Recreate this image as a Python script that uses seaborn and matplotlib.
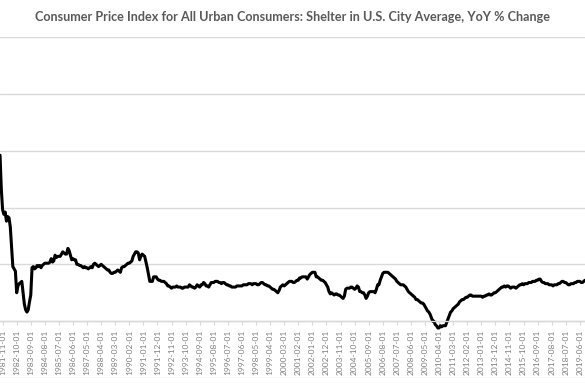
import matplotlib
matplotlib.use("Agg")
import matplotlib.pyplot as plt
import seaborn as sns
import pandas as pd

# monthly YoY % change, first value is 1981-09
start_month = '1981-09-01'
shelter_yoy = [
    14.6, 11.6, 9.8, 9.4,                                              # 1981 Sep-Dec
    9.6, 8.8, 9.2, 9.1, 8.3, 6.6, 4.8, 4.6, 4.4, 2.5, 3.1, 3.3,        # 1982
    3.4, 3.5, 2.5, 1.5, 1.0, 0.8, 1.0, 1.7, 2.3, 4.7, 4.8, 4.6,        # 1983
    4.7, 4.9, 4.8, 4.9, 4.7, 4.9, 5.0, 5.1, 5.1, 5.1, 5.1, 5.2,        # 1984
    5.5, 5.2, 5.3, 5.8, 5.6, 5.7, 5.7, 5.7, 5.9, 6.1, 6.0, 5.9,        # 1985
    5.9, 6.4, 6.2, 5.8, 5.4, 5.5, 5.4, 5.4, 5.0, 5.0, 4.9, 4.9,        # 1986
    4.8, 4.7, 4.8, 4.7, 4.7, 4.6, 4.7, 4.8, 4.7, 5.0, 5.1, 5.0,        # 1987
    4.9, 4.8, 4.9, 5.0, 4.9, 4.8, 4.7, 4.6, 4.5, 4.5, 4.3, 4.2,        # 1988
    4.2, 4.3, 4.3, 4.4, 4.5, 4.4, 4.3, 4.7, 4.8, 4.8, 4.9, 5.0,        # 1989
    5.1, 5.1, 5.2, 5.3, 5.7, 5.9, 6.1, 6.1, 6.0, 5.4, 5.7, 5.9,        # 1990
    5.8, 5.7, 5.2, 4.7, 4.1, 3.5, 3.5, 3.5, 3.9, 3.9, 3.9, 3.7,        # 1991
    3.6, 3.6, 3.5, 3.5, 3.5, 3.4, 3.3, 3.1, 3.1, 3.0, 2.9, 3.0,        # 1992
    3.0, 3.0, 3.1, 3.0, 3.0, 3.0, 2.9, 2.9, 3.0, 3.0, 3.0, 3.0,        # 1993
    3.2, 3.1, 3.0, 3.0, 2.9, 3.0, 3.2, 3.1, 3.0, 3.2, 3.2, 3.4,        # 1994
    3.3, 3.1, 3.1, 3.0, 3.2, 3.4, 3.4, 3.4, 3.5, 3.5, 3.5, 3.4,        # 1995
    3.4, 3.3, 3.4, 3.4, 3.3, 3.2, 3.2, 3.1, 3.1, 3.0, 3.0, 3.0,        # 1996
    3.0, 3.1, 3.1, 3.1, 3.1, 3.1, 3.2, 3.2, 3.2, 3.2, 3.3, 3.3,        # 1997
    3.3, 3.2, 3.3, 3.3, 3.3, 3.2, 3.2, 3.3, 3.4, 3.4, 3.3, 3.2,        # 1998
    3.2, 3.1, 3.1, 3.0, 2.9, 2.8, 2.8, 2.7, 2.6, 2.5, 2.7, 3.0,        # 1999
    3.1, 3.2, 3.1, 3.2, 3.3, 3.4, 3.5, 3.5, 3.5, 3.4, 3.4, 3.5,        # 2000
    3.6, 3.6, 3.8, 3.8, 3.9, 3.9, 3.9, 3.9, 3.7, 3.9, 4.1, 4.2,        # 2001
    4.3, 4.3, 4.3, 3.9, 3.9, 3.8, 3.7, 3.6, 3.6, 3.5, 3.4, 3.2,        # 2002
    3.0, 2.6, 2.4, 2.5, 2.4, 2.3, 2.4, 2.4, 2.3, 2.3, 2.2, 2.1,        # 2003
    2.0, 2.2, 2.8, 2.9, 2.9, 2.9, 3.0, 3.0, 2.9, 2.8, 2.9, 3.1,        # 2004
    3.0, 2.6, 2.6, 2.5, 2.5, 2.3, 2.0, 2.2, 2.5, 2.6, 2.6, 2.6,        # 2005
    2.6, 2.5, 2.8, 3.2, 3.2, 3.6, 3.9, 4.2, 4.3, 4.3, 4.3, 4.3,        # 2006
    4.2, 4.1, 4.0, 3.9, 3.8, 3.7, 3.5, 3.4, 3.3, 3.2, 3.2, 3.2,        # 2007
    3.1, 3.0, 2.8, 2.6, 2.5, 2.4, 2.3, 2.2, 2.1, 1.9, 1.9, 1.8,        # 2008
    1.7, 1.6, 1.6, 1.5, 1.3, 1.1, 0.9, 0.8, 0.6, 0.3, 0.0, 0.0,        # 2009
    -0.3, -0.4, -0.6, -0.6, -0.4, -0.5, -0.4, -0.4, -0.4, -0.1, 0.2, 0.5,  # 2010
    0.8, 0.9, 1.1, 1.2, 1.3, 1.4, 1.5, 1.7, 1.8, 1.9, 1.9, 2.0,        # 2011
    2.1, 2.1, 2.2, 2.3, 2.3, 2.2, 2.2, 2.2, 2.2, 2.2, 2.2, 2.2,        # 2012
    2.2, 2.1, 2.2, 2.2, 2.3, 2.3, 2.4, 2.3, 2.3, 2.4, 2.5, 2.5,        # 2013
    2.6, 2.7, 2.8, 2.9, 3.0, 3.0, 3.1, 3.0, 3.1, 3.1, 3.0, 2.9,        # 2014
    3.0, 3.0, 3.0, 2.9, 3.0, 3.1, 3.2, 3.2, 3.3, 3.2, 3.3, 3.3,        # 2015
    3.3, 3.4, 3.4, 3.4, 3.5, 3.5, 3.5, 3.6, 3.6, 3.7, 3.7, 3.5,        # 2016
    3.4, 3.4, 3.3, 3.3, 3.3, 3.2, 3.2, 3.2, 3.1, 3.2, 3.2, 3.2,        # 2017
    3.3, 3.3, 3.4, 3.5, 3.5, 3.4, 3.4, 3.3, 3.2, 3.2, 3.3, 3.3,        # 2018
    3.3, 3.4, 3.4, 3.5, 3.5, 3.5, 3.4, 3.4, 3.5, 3.6,                  # 2019 Jan-Oct
]
label_every = 11
first_label = '1981-11-01'

dates = pd.date_range(start_month, periods=len(shelter_yoy), freq='MS')
df = pd.DataFrame({'pos': range(len(shelter_yoy)), 'date': dates, 'yoy': shelter_yoy})

sns.set_style('white')
plt.rcParams['font.family'] = ['Lato', 'DejaVu Sans']

fig = plt.figure(figsize=(5.85, 3.9), dpi=100)
ax = fig.add_axes([0, 12 / 390, 1, 341 / 390])

sns.lineplot(data=df, x='pos', y='yoy', color='black', linewidth=2.2, ax=ax)

# spine position first: moving it resets the tick objects
for side in ['top', 'right', 'left']:
    ax.spines[side].set_visible(False)
ax.spines['bottom'].set_position(('data', 0))
ax.spines['bottom'].set_color('#d9d9d9')
ax.spines['bottom'].set_linewidth(1.0)

ax.set_ylim(-5, 25)
ax.set_yticks(range(-5, 26, 5))
ax.yaxis.grid(True, color='#d9d9d9', linewidth=1.0)
ax.tick_params(axis='y', left=False, labelleft=False)
ax.set_xlim(-0.03, len(shelter_yoy) - 1)

lab_start = int(df.index[df['date'] == first_label][0])
tick_pos = df['pos'].iloc[lab_start::label_every].tolist()
tick_lab = df['date'].iloc[lab_start::label_every].dt.strftime('%Y-%m-%d').tolist()
ax.set_xticks(tick_pos)
ax.set_xticklabels(tick_lab)
ax.tick_params(axis='x', bottom=True, length=3, width=0.8, color='#d9d9d9', pad=3,
               labelrotation=90, labelsize=6.0, labelcolor='#7f7f7f')
ax.set_xlabel('')
ax.set_ylabel('')

fig.text(0.5, 1 - 17 / 390, 'Consumer Price Index for All Urban Consumers: Shelter in U.S. City Average, YoY % Change',
         ha='center', va='center', fontsize=9.1, fontweight='bold', color='#595959')

fig.savefig('out.png', dpi=100)
